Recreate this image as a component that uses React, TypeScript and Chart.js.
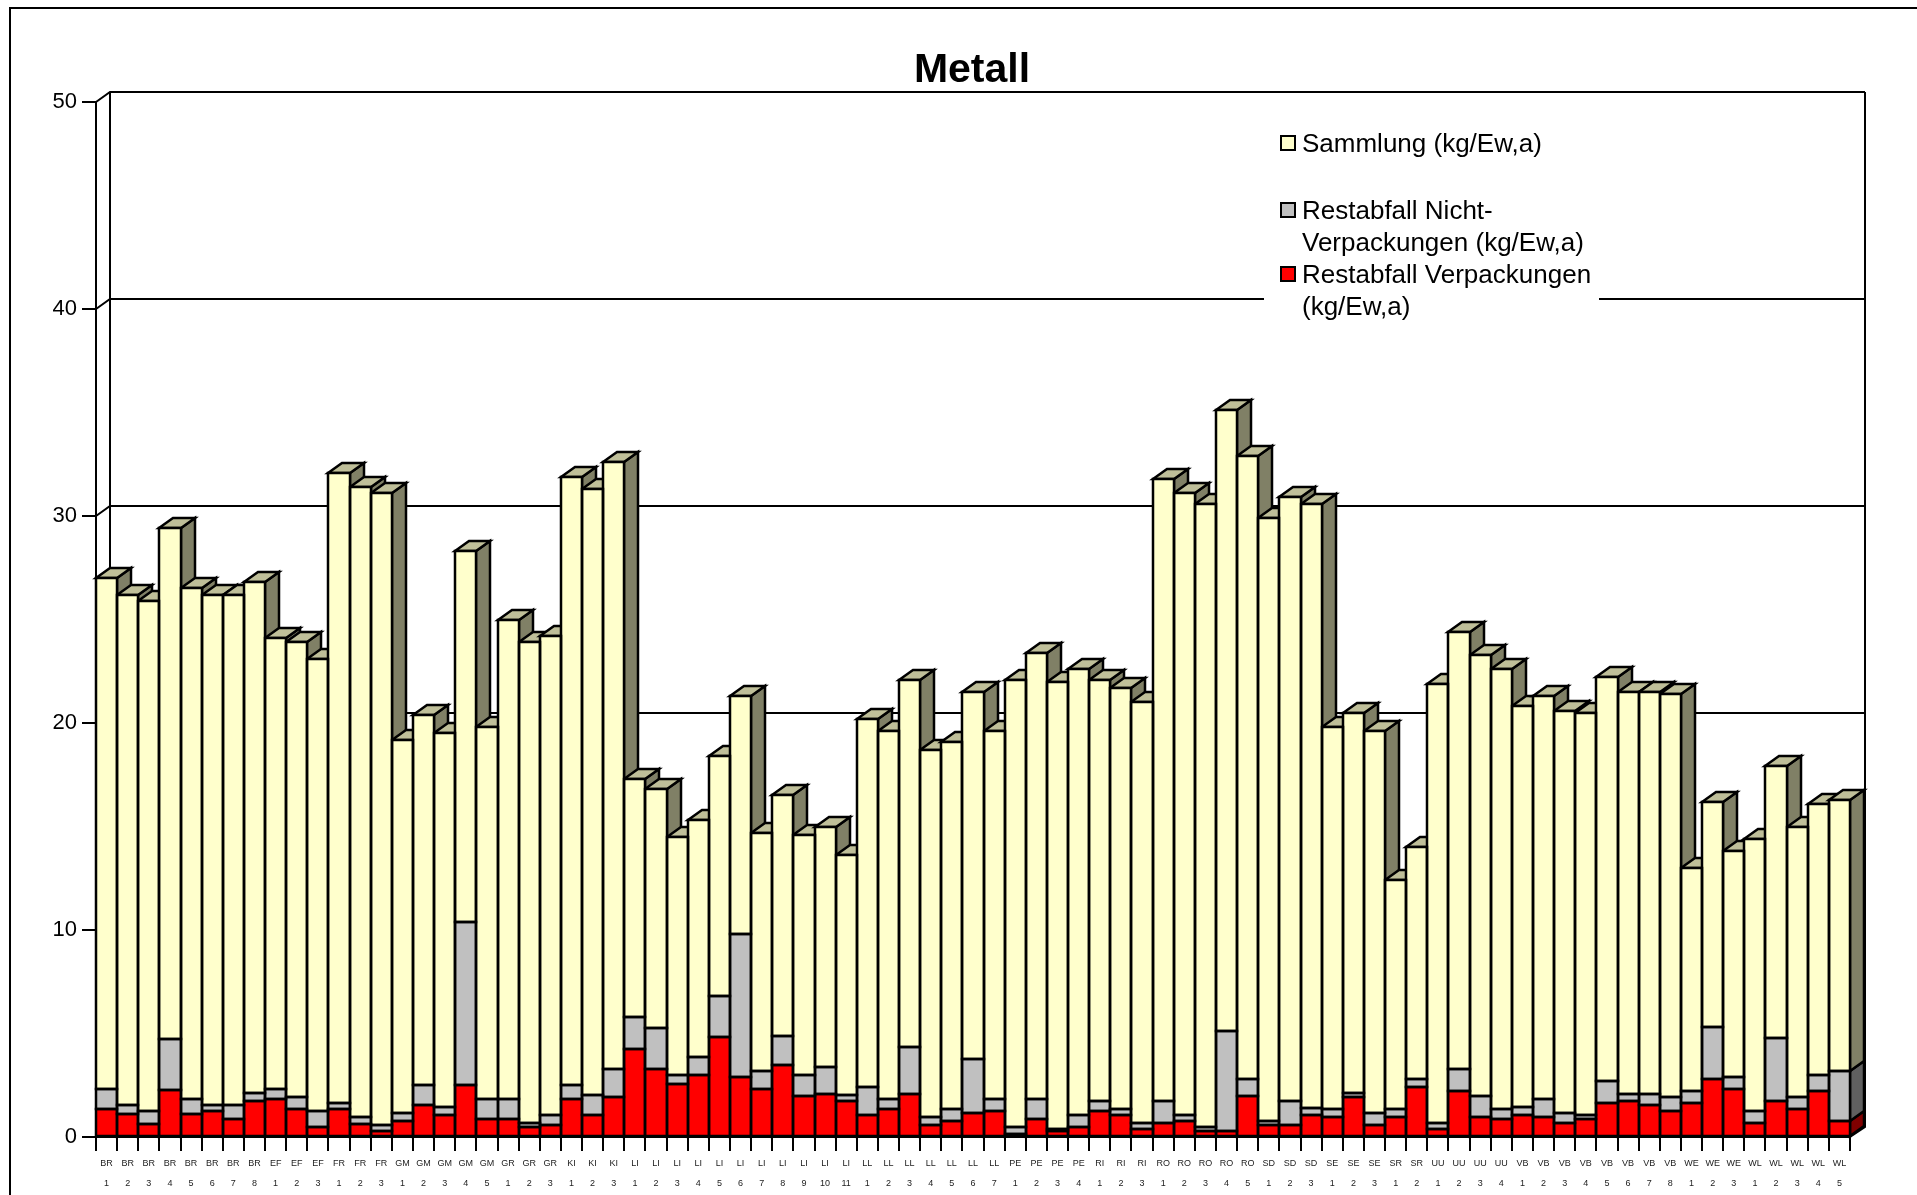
import React, { useEffect, useRef } from "react";
import { Chart, registerables } from "chart.js";

Chart.register(...registerables);

const groups = ["BR","BR","BR","BR","BR","BR","BR","BR","EF","EF","EF","FR","FR","FR","GM","GM","GM","GM","GM","GR","GR","GR","KI","KI","KI","LI","LI","LI","LI","LI","LI","LI","LI","LI","LI","LI","LL","LL","LL","LL","LL","LL","LL","PE","PE","PE","PE","RI","RI","RI","RO","RO","RO","RO","RO","SD","SD","SD","SE","SE","SE","SR","SR","UU","UU","UU","UU","VB","VB","VB","VB","VB","VB","VB","VB","WE","WE","WE","WL","WL","WL","WL","WL"];
const numbers = ["1","2","3","4","5","6","7","8","1","2","3","1","2","3","1","2","3","4","5","1","2","3","1","2","3","1","2","3","4","5","6","7","8","9","10","11","1","2","3","4","5","6","7","1","2","3","4","1","2","3","1","2","3","4","5","1","2","3","1","2","3","1","2","1","2","3","4","1","2","3","4","5","6","7","8","1","2","3","1","2","3","4","5"];

const restVerpackungen = [1.34,1.13,.64,2.29,1.13,1.24,.85,1.72,1.82,1.34,.48,1.34,.64,.27,.76,1.53,1.05,2.5,.85,.85,.47,.56,1.82,1.05,1.92,4.24,3.28,2.58,2.98,4.83,2.88,2.3,3.46,2.0,2.1,1.72,1.05,1.34,2.1,.56,.76,1.14,1.24,.16,.85,.27,.47,1.24,1.05,.37,.66,.76,.27,.27,2.0,.56,.56,1.05,.95,1.92,.56,.95,2.4,.37,2.2,.95,.85,1.05,.95,.66,.85,1.63,1.72,1.53,1.24,1.63,2.8,2.3,.66,1.72,1.34,2.2,.76];
const restNichtVerpackungen = [.96,.42,.62,2.43,.71,.31,.7,.42,.48,.58,.78,.3,.31,.29,.38,1.0,.4,7.9,.99,.99,.19,.5,.71,.98,1.36,1.56,1.97,.4,.88,1.97,6.92,.87,1.44,.98,1.28,.31,1.35,.48,2.25,.39,.58,2.61,.58,.32,.97,.1,.58,.48,.29,.29,1.06,.29,.2,4.85,.8,.2,1.16,.37,.39,.21,.58,.39,.4,.29,1.07,1.05,.49,.38,.87,.48,.2,1.06,.38,.57,.68,.57,2.5,.58,.58,3.08,.58,.8,2.44];
const sammlung = [24.7,24.65,24.64,24.68,24.66,24.65,24.65,24.66,21.8,21.98,21.84,30.46,30.45,30.54,18.06,17.87,18.05,17.9,17.96,23.16,23.24,23.14,29.37,29.27,29.32,11.5,11.55,11.52,11.44,11.6,11.5,11.53,11.6,11.62,11.62,11.57,17.8,17.78,17.75,17.75,17.76,17.75,17.78,21.62,21.58,21.63,21.55,20.38,20.36,20.34,30.08,30.05,30.13,29.98,30.1,29.14,29.18,29.18,18.46,18.37,18.46,11.06,11.2,21.24,21.13,21.3,21.26,19.37,19.48,19.46,19.45,19.51,19.4,19.4,19.48,10.8,10.9,10.92,13.16,13.1,13.08,13.1,13.1];

const titleText = "Metall";
const yTicks = [0, 10, 20, 30, 40, 50];
const legendEntries = [
  { lines: ["Sammlung (kg/Ew,a)"], color: "#FFFFCC" },
  { lines: ["Restabfall Nicht-", "Verpackungen (kg/Ew,a)"], color: "#C0C0C0" },
  { lines: ["Restabfall Verpackungen", "(kg/Ew,a)"], color: "#FF0000" },
];

const FONT = '"Liberation Sans", Arial, sans-serif';
const DX = 14;
const DY = -10;
const LW = 2;
const BAR_LW = 2.5;
const snap = (v: number) => Math.round(v);

const faceColors = [
  { side: "#800000", top: "#BF0000" },
  { side: "#606060", top: "#909090" },
  { side: "#808066", top: "#BFBF99" },
];

const scene3d = {
  id: "scene3d",
  afterLayout(chart: any) {
    // the title is centred over the whole frame rather than the plot
    if (chart.titleBlock) chart.titleBlock.left = 94;
  },
  beforeDatasetsDraw(chart: any) {
    const { ctx, chartArea: a, scales } = chart;
    const y = scales.y;
    ctx.save();
    ctx.strokeStyle = "#000";
    ctx.lineWidth = LW;
    // outer frame (open to the right and the bottom)
    ctx.beginPath();
    ctx.moveTo(1917, 8);
    ctx.lineTo(10, 8);
    ctx.lineTo(10, 1195);
    ctx.stroke();
    // back wall grid
    for (const t of yTicks) {
      const py = snap(y.getPixelForValue(t));
      ctx.beginPath();
      ctx.moveTo(a.left, py);
      ctx.lineTo(a.left + DX, py + DY);
      ctx.lineTo(a.right + DX + 1, py + DY);
      ctx.stroke();
    }
    ctx.beginPath();
    ctx.moveTo(a.left + DX, a.top + DY);
    ctx.lineTo(a.left + DX, a.bottom + DY);
    ctx.moveTo(a.right + DX + 1, a.top + DY);
    ctx.lineTo(a.right + DX + 1, a.bottom + DY);
    ctx.lineTo(a.right, a.bottom);
    ctx.stroke();
    // legend background hides the wall grid
    ctx.fillStyle = "#fff";
    ctx.fillRect(1264, 120, 335, 210);
    // sides and tops, left to right
    const metas = chart.getSortedVisibleDatasetMetas();
    ctx.lineWidth = BAR_LW;
    ctx.lineJoin = "miter";
    const n = metas[0].data.length;
    for (let i = 0; i < n; i++) {
      metas.forEach((meta: any, d: number) => {
        const el = meta.data[i];
        const r = snap(el.x + el.width / 2);
        const l = snap(el.x - el.width / 2);
        const top = snap(el.y);
        const base = snap(el.base);
        ctx.fillStyle = faceColors[d].side;
        ctx.beginPath();
        ctx.moveTo(r, base);
        ctx.lineTo(r + DX, base + DY);
        ctx.lineTo(r + DX, top + DY);
        ctx.lineTo(r, top);
        ctx.closePath();
        ctx.fill();
        ctx.stroke();
        if (d === metas.length - 1) {
          ctx.fillStyle = faceColors[d].top;
          ctx.beginPath();
          ctx.moveTo(l, top);
          ctx.lineTo(l + DX, top + DY);
          ctx.lineTo(r + DX, top + DY);
          ctx.lineTo(r, top);
          ctx.closePath();
          ctx.fill();
          ctx.stroke();
        }
      });
    }
    ctx.restore();
  },
  afterDatasetsDraw(chart: any) {
    const { ctx } = chart;
    ctx.save();
    ctx.strokeStyle = "#000";
    ctx.lineWidth = BAR_LW;
    chart.getSortedVisibleDatasetMetas().forEach((meta: any) => {
      meta.data.forEach((el: any) => {
        const l = snap(el.x - el.width / 2);
        const r = snap(el.x + el.width / 2);
        const top = snap(el.y);
        const base = snap(el.base);
        ctx.strokeRect(l, top, r - l, base - top);
      });
    });
    ctx.restore();
  },
  afterDraw(chart: any) {
    const { ctx } = chart;
    const X_SWATCH = 1280;
    const X_TEXT = 1302;
    const rows = [143, 210, 274];
    const LINE = 32;
    ctx.save();
    ctx.font = `26px ${FONT}`;
    ctx.textBaseline = "middle";
    ctx.textAlign = "left";
    legendEntries.forEach((entry, i) => {
      ctx.fillStyle = entry.color;
      ctx.strokeStyle = "#000";
      ctx.lineWidth = 2;
      ctx.fillRect(X_SWATCH + 1, rows[i] - 7, 14, 14);
      ctx.strokeRect(X_SWATCH + 1, rows[i] - 7, 14, 14);
      ctx.fillStyle = "#000";
      entry.lines.forEach((t, j) => ctx.fillText(t, X_TEXT, rows[i] + 2 + j * LINE));
    });
    ctx.restore();
  },
};

export default function App() {
  const ref = useRef<HTMLCanvasElement>(null);
  useEffect(() => {
    const chart = new Chart(ref.current as HTMLCanvasElement, {
      type: "bar",
      data: {
        labels: groups.map((g, i) => [g, numbers[i]]),
        datasets: [
          { label: "Restabfall Verpackungen (kg/Ew,a)", data: restVerpackungen, backgroundColor: "#FF0000", borderWidth: 0 },
          { label: "Restabfall Nicht-Verpackungen (kg/Ew,a)", data: restNichtVerpackungen, backgroundColor: "#C0C0C0", borderWidth: 0 },
          { label: "Sammlung (kg/Ew,a)", data: sammlung, backgroundColor: "#FFFFCC", borderWidth: 0 },
        ],
      },
      options: {
        responsive: false,
        animation: false,
        devicePixelRatio: 1,
        layout: { padding: { left: 0, right: 67, top: 0, bottom: 0 } },
        datasets: { bar: { barPercentage: 1, categoryPercentage: 1 } },
        plugins: {
          legend: { display: false },
          tooltip: { enabled: false },
          title: {
            display: true,
            text: titleText,
            color: "#000",
            font: { family: FONT, size: 41, weight: "bold", lineHeight: 1.2 },
            padding: { top: 46, bottom: 6.8 },
          },
        },
        scales: {
          x: {
            stacked: true,
            offset: true,
            afterFit: (s: any) => { s.height = 58; },
            border: { display: true, color: "#000", width: 2 },
            grid: { offset: true, drawOnChartArea: false, drawTicks: true, tickLength: 14, color: "#000", lineWidth: 2 },
            ticks: {
              autoSkip: false,
              maxRotation: 0,
              minRotation: 0,
              padding: 3,
              color: "#222",
              font: { family: FONT, size: 9, lineHeight: 2.15 },
            },
          },
          y: {
            stacked: true,
            min: 0,
            max: 50,
            afterFit: (s: any) => { s.width = 96; },
            border: { display: true, color: "#000", width: 2 },
            grid: { drawOnChartArea: false, drawTicks: true, tickLength: 14, color: "#000", lineWidth: 2 },
            ticks: {
              stepSize: 10,
              padding: 5,
              color: "#000",
              font: { family: FONT, size: 22 },
            },
          },
        },
      },
      plugins: [scene3d],
    } as any);
    return () => chart.destroy();
  }, []);
  return (
    <canvas
      ref={ref}
      width={1917}
      height={1195}
      style={{ position: "fixed", left: 0, top: 0, width: 1917, height: 1195, background: "#fff" }}
    />
  );
}
